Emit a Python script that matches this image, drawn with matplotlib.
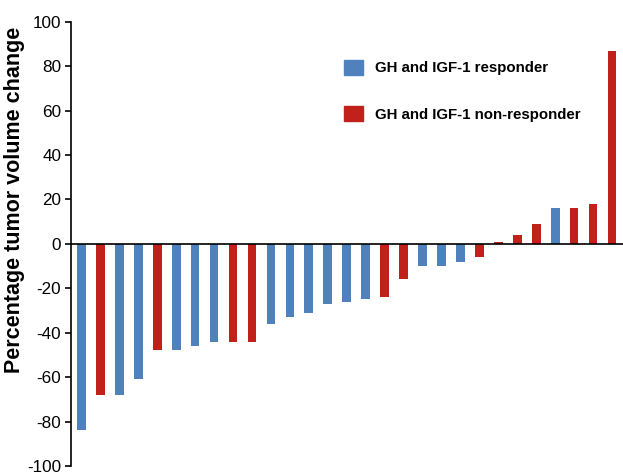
import matplotlib
matplotlib.use("Agg")
import matplotlib.pyplot as plt
from matplotlib.patches import Patch

plt.rcParams['font.family'] = ['Liberation Sans', 'DejaVu Sans']

# tumor volume change per patient, sorted (waterfall)
values = [-84, -68, -68, -61, -48, -48, -46, -44, -44, -44,
          -36, -33, -31, -27, -26, -25, -24, -16, -10, -10,
          -8, -6, 1, 4, 9, 16, 16, 18, 87]
# 'R' = GH and IGF-1 responder, 'N' = non-responder
groups = ['R', 'N', 'R', 'R', 'N', 'R', 'R', 'R', 'N', 'N',
          'R', 'R', 'R', 'R', 'R', 'R', 'N', 'N', 'R', 'R',
          'R', 'N', 'N', 'N', 'N', 'R', 'N', 'N', 'N']
yticks = [-100, -80, -60, -40, -20, 0, 20, 40, 60, 80, 100]

blue = '#4f81bd'
red = '#c0211b'
colors = [blue if g == 'R' else red for g in groups]

fig = plt.figure(figsize=(6.23, 4.74), dpi=100)
ax = fig.add_axes([0.114, 0.017, 0.886, 0.937])

x = range(len(values))
ax.bar(x, values, width=0.46, color=colors, zorder=2)
ax.axhline(0, color='black', lw=1.2, zorder=3)

ax.set_ylim(-100, 100)
ax.set_xlim(-0.55, len(values) - 0.42)
ax.set_yticks(yticks)
ax.set_yticklabels([str(t) for t in yticks], fontsize=12.3)
ax.set_xticks([])
for s in ['top', 'right', 'bottom']:
    ax.spines[s].set_visible(False)
ax.spines['left'].set_linewidth(1.2)
ax.tick_params(axis='y', direction='out', length=4, width=1.2, pad=3)

ax.set_ylabel('Percentage tumor volume change', fontsize=15.5,
              fontweight='bold')
ax.yaxis.set_label_coords(-0.083, 0.598)

handles = [Patch(color=blue, label='GH and IGF-1 responder'),
           Patch(color=red, label='GH and IGF-1 non-responder')]
ax.legend(handles=handles, loc='upper left', bbox_to_anchor=(0.47, 0.945),
          frameon=False, prop={'size': 10.8, 'weight': 'bold'},
          handlelength=1.27, handleheight=1.15, handletextpad=0.8,
          labelspacing=2.05)

fig.savefig('out.png', dpi=100)
